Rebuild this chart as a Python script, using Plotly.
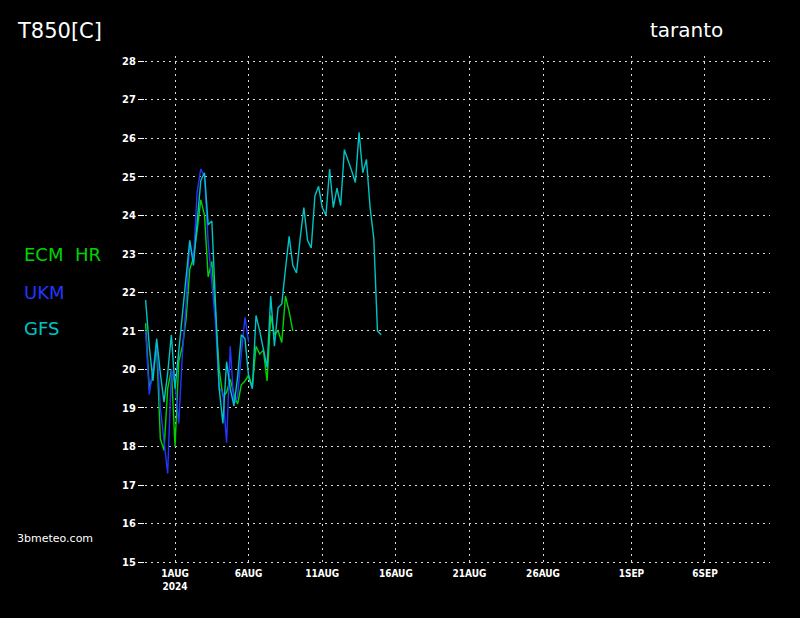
import pandas as pd
import plotly.graph_objects as go

# ---- data (6-hourly, starting 2024-07-30 00UTC) ----
start = "2024-07-30 00:00"

gfs_values = [
    21.8, 20.6, 19.7, 20.8, 19.9, 19.15, 19.9, 20.9,
    19.5, 20.5, 21.3, 22.3, 23.35, 22.7, 23.8, 24.9,
    25.1, 23.75, 23.85, 21.6, 19.5, 18.6, 20.2, 19.5,
    19.05, 19.8, 20.9, 20.8, 19.8, 19.5, 21.4, 21.0,
    20.5, 20.05, 21.9, 20.6, 21.6, 21.7, 22.6, 23.45,
    22.7, 22.5, 23.4, 24.2, 23.35, 23.15, 24.5, 24.75,
    24.2, 24.0, 25.2, 24.2, 24.7, 24.25, 25.7, 25.45,
    25.15, 24.85, 26.15, 25.1, 25.45, 24.2, 23.4, 21.0,
    20.9,
]

ecm_values = [
    21.2, 19.5, 19.9, 20.6, 18.2, 17.9, 19.5, 20.0,
    18.0, 20.2, 20.6, 21.3, 22.6, 22.9, 23.6, 24.4,
    24.0, 22.4, 22.8, 21.3, 20.0, 19.3, 19.4, 19.75,
    19.35, 19.1, 19.6, 19.7, 19.85, 19.55, 20.6, 20.4,
    20.5, 19.7, 21.4, 20.9, 21.0, 20.7, 21.9, 21.5,
    21.0,
]

ukm_values = [
    21.0, 19.35, 20.0, 20.7, 19.0, 18.2, 17.3, 20.0,
    19.6, 18.6, 20.4, 21.7, 23.3, 22.8, 24.6, 25.2,
    25.0, 23.3, 22.3, 21.2, 19.5, 19.4, 18.1, 20.6,
    19.1, 19.3, 20.4, 21.35, 20.7,
]

series_names = ["ECM HR", "UKM", "GFS"]
series_colors = ["#00d400", "#2236ff", "#00c4c4"]

y_ticks = list(range(15, 29))
x_tick_dates = ["2024-08-01", "2024-08-06", "2024-08-11", "2024-08-16",
                "2024-08-21", "2024-08-26", "2024-09-01", "2024-09-06"]
x_tick_text = ["1AUG<br>2024", "6AUG", "11AUG", "16AUG",
               "21AUG", "26AUG", "1SEP", "6SEP"]

title_left = "T850[C]"
title_right = "taranto"
credit = "3bmeteo.com"

# ---- figure ----
def times(n):
    return pd.date_range(start=start, periods=n, freq="6h")

fig = go.Figure()
for name, vals, col in zip(series_names, [ecm_values, ukm_values, gfs_values], series_colors):
    fig.add_trace(go.Scatter(x=times(len(vals)), y=vals, mode="lines", name=name,
                             line=dict(color=col, width=1.4), showlegend=False))

L, R, T, B = 145, 30, 56, 52
W, H = 800, 618
pw, ph = W - L - R, H - T - B

def px(xp):
    return (xp - L) / pw

def py(yp):
    return (H - B - yp) / ph

grid = dict(showgrid=True, gridcolor="#d8d8d8", gridwidth=1.3, griddash="2px,4px", zeroline=False)

fig.update_layout(
    width=W, height=H,
    margin=dict(l=L, r=R, t=T, b=B),
    paper_bgcolor="black", plot_bgcolor="black",
    xaxis=dict(type="date", range=["2024-07-29 23:00", "2024-09-10 10:00"],
               tickvals=x_tick_dates,
               ticktext=["<b>" + t.replace("<br>", "</b><br><b>") + "</b>" for t in x_tick_text],
               tickfont=dict(family="DejaVu Sans Condensed, Liberation Sans Narrow, sans-serif",
                             size=10, color="white"),
               ticks="", showline=False, **grid),
    yaxis=dict(range=[14.9, 28.13], tickvals=y_ticks,
               ticktext=["<b>%d</b>" % v for v in y_ticks],
               tickfont=dict(family="DejaVu Sans Condensed, Liberation Sans Narrow, sans-serif",
                             size=11, color="white"),
               ticks="outside", ticklen=6, tickcolor="white", tickwidth=1,
               showline=False, **grid),
)

annots = [
    (title_left, 15, 31, "white", 21),
    (title_right, 648, 30, "white", 20),
    (series_names[0].replace(" ", "&nbsp;&nbsp;"), 22, 255, series_colors[0], 18),
    (series_names[1], 22, 292, series_colors[1], 18),
    (series_names[2], 22, 328, series_colors[2], 18),
    (credit, 15, 538, "white", 11),
]
for text, x, y, col, size in annots:
    fig.add_annotation(text=text, x=px(x), y=py(y), xref="paper", yref="paper",
                       xanchor="left", yanchor="middle", showarrow=False,
                       font=dict(family="DejaVu Sans, sans-serif", size=size, color=col))

fig.write_html(
    "out.html",
    config={"displayModeBar": False},
    post_script="document.body.style.margin='0';document.body.style.background='black';"
                "document.documentElement.style.background='black';",
)
